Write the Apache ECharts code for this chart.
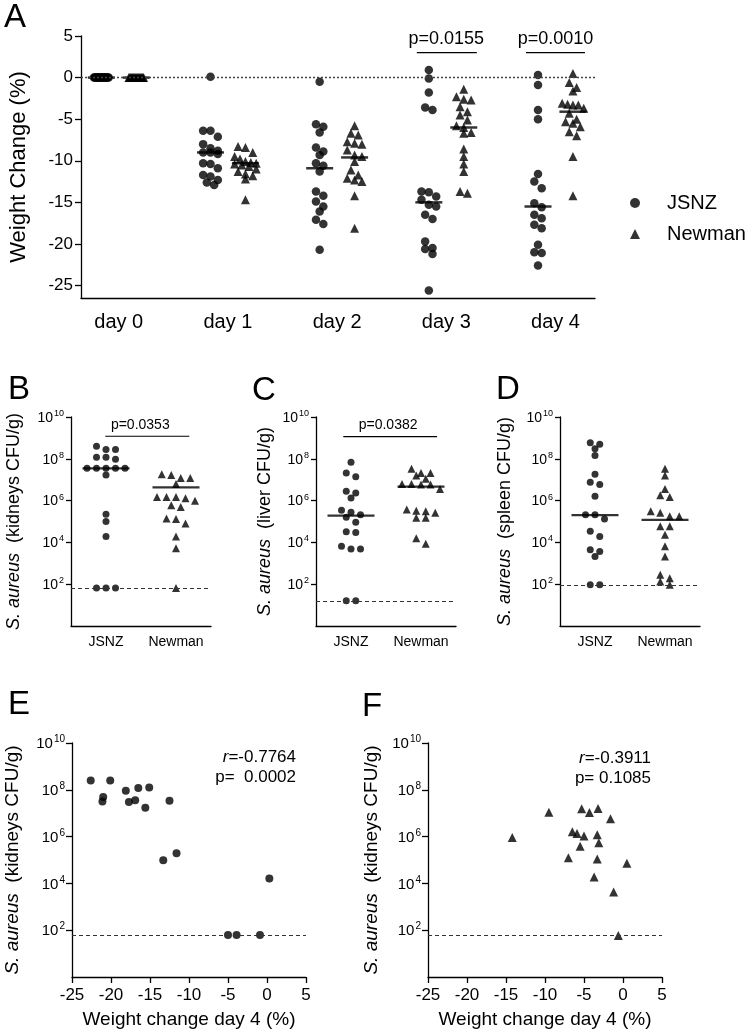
<!DOCTYPE html>
<html><head><meta charset="utf-8">
<script src="https://cdn.jsdelivr.net/npm/echarts@6/dist/echarts.min.js"></script>
<style>html,body{margin:0;padding:0;background:#fff}#c{width:751px;height:1036px}</style>
</head><body><div id="c"></div>
<script>
// ================= DATA =================
const days = ['day 0', 'day 1', 'day 2', 'day 3', 'day 4'];
const groups = ['JSNZ', 'Newman'];

// Panel A: weight change (%) per day
const weightD0_JSNZ   = [0,0,0,0,0,0,0,0,0,0,0,0,0,0,0,0,0,0];
const weightD0_Newman = [0,0,0,0,0,0,0,0,0,0,0,0,0,0,0,0,0,0];
const weightD1_JSNZ   = [0.1,-6.4,-6.4,-7.1,-8.0,-8.5,-8.8,-9.0,-9.0,-9.2,-10.3,-10.4,-10.9,-11.7,-11.9,-12.3,-12.6,-12.9];
const weightD1_Newman = [-8.3,-8.4,-9.0,-9.5,-9.8,-10.1,-10.2,-10.3,-10.4,-10.5,-10.7,-11.0,-11.3,-11.6,-11.8,-12.2,-14.7];
const weightD2_JSNZ   = [-0.5,-5.6,-5.9,-6.6,-8.4,-8.9,-9.3,-10.3,-10.6,-11.3,-13.7,-14.2,-14.9,-15.5,-16.1,-17.1,-17.6,-20.7];
const weightD2_Newman = [-5.8,-6.7,-6.9,-7.7,-7.9,-8.0,-8.7,-9.3,-9.5,-10.1,-11.1,-11.7,-12.1,-12.3,-12.5,-14.2,-18.1];
const weightD3_JSNZ   = [0.9,-0.1,-1.8,-3.6,-3.9,-13.7,-13.8,-14.3,-14.7,-15.3,-15.5,-16.5,-17.0,-19.7,-20.5,-20.6,-21.2,-25.6];
const weightD3_Newman = [-1.4,-2.3,-2.6,-2.7,-3.5,-4.1,-4.5,-5.1,-5.8,-6.0,-6.6,-6.7,-8.6,-9.5,-10.4,-11.3,-13.7,-13.9];
const weightD4_JSNZ   = [-22.6,-20.1,-21.0,-21.1,-18.1,-17.7,-16.9,-16.5,-15.6,-15.1,-12.5,-13.3,-11.6,0.3,-5.0,-3.9,-0.9];
const weightD4_Newman = [-14.2,-9.5,-7.0,-6.5,-5.9,-5.5,-5.3,-5.0,-4.3,-3.7,-3.3,-3.2,-3.3,-3.1,-1.6,-1.2,-0.6,0.5];
const medianA_JSNZ    = [0, -9.0, -10.9, -15.0, -15.5];
const medianA_Newman  = [0, -10.3, -9.6, -6.0, -4.1];
const pValuesA        = ['p=0.0155', 'p=0.0010'];   // day 3, day 4

// Panels B-D: CFU/g
const kidneyJSNZ   = [4.0e8,2.8e8,2.8e8,1.2e8,1.2e8,9.5e7,3.5e7,3.5e7,3.5e7,3.5e7,3.5e7,1.7e7,2.2e5,1.0e5,1.9e4,66,66,66];
const kidneyNewman = [1.8e7,1.2e7,6.2e6,1.2e7,1.7e7,1.5e6,9.8e5,1.5e6,1.5e6,1.3e6,5.0e5,6.0e5,1.3e5,8.1e4,1.4e5,1.9e4,5.2e3,66];
const liverJSNZ    = [6.9e7,1.4e7,2.1e7,2.3e6,2.8e6,1.35e6,2.8e5,3.5e5,2.1e5,1.6e5,9.1e4,3.0e4,3.2e4,4.8e3,4.8e3,6.5e3,16,16];
const liverNewman  = [2.1e7,1.6e7,3.3e7,2.1e7,1.1e7,6.3e6,5.9e6,3.6e6,5.9e6,6.3e6,3.1e5,3.7e5,1.5e5,1.5e5,2.6e5,3.3e5,8.7e3,1.6e4];
const spleenJSNZ   = [3.0e8,4.9e8,5.9e8,1.45e8,1.8e7,7.6e6,5.9e6,1.6e6,2.1e5,2.1e5,1.3e5,3.4e4,1.9e4,3.7e3,4.5e3,2.1e3,93,93];
const spleenNewman = [3.3e7,1.6e7,3.6e6,1.5e6,1.8e6,3.1e5,1.8e5,1.8e5,2.6e5,5.9e4,5.9e4,2.3e4,6.5e3,2.1e3,195,280,135,93];
const medianKidney = [3.5e7, 4.3e6];
const medianLiver  = [1.9e5, 4.7e6];
const medianSpleen = [2.0e5, 1.2e5];
const lodKidney = 66, lodLiver = 16, lodSpleen = 93;
const pKidney = 'p=0.0353', pLiver = 'p=0.0382';

// Panels E, F: kidney CFU vs day-4 weight change
const cfuKidneyE = [2.5e8,2.5e8,4.9e7,3.2e7,9.1e7,3.0e7,3.6e7,1.2e8,1.7e7,1.26e8,3.4e7,9.8e4,1.95e5,1.6e4,63,63,63];
const cfuKidneyF = [9.1e5,1.1e7,1.26e5,1.6e6,1.35e6,3.9e5,1.55e7,1.07e6,1.07e7,1.9e4,1.2e6,1.6e7,1.1e5,5.4e5,5.8e6,4.3e3,59,7.2e4];
const lodE = 63, lodF = 63;
const statsE = ['r', '=-0.7764', 'p=  0.0002'];
const statsF = ['r', '=-0.3911', 'p= 0.1085'];

// ================= HELPERS =================
const FONT = '"Liberation Sans", Arial, Helvetica, sans-serif';
const lg = v => Math.log10(v);

// deterministic column-scatter layout (GraphPad-like): rows of nearby values spread sideways
function swarm(vals, center, pxY, pxX, sp, maxHalf, binPx) {
  const idx = vals.map((v, i) => i).sort((a, b) => vals[b] - vals[a]);
  const out = [];
  let i = 0;
  while (i < idx.length) {
    const start = vals[idx[i]];
    let j = i;
    while (j < idx.length && (start - vals[idx[j]]) * pxY < binPx) j++;
    const k = j - i;
    const s = k > 1 ? Math.min(sp, 2 * maxHalf / (k - 1)) : 0;
    for (let m = 0; m < k; m++) out.push([center + (m - (k - 1) / 2) * s / pxX, vals[idx[i + m]]]);
    i = j;
  }
  return out;
}

const axisLine = { onZero: false, lineStyle: { color: '#000', width: 1.3 } };
const tickStyle = { lineStyle: { color: '#000', width: 1.3 } };
const supLabel = (b, s) => ({
  customValues: [2, 4, 6, 8, 10],
  formatter: v => '{b|10}{s|' + v + '}',
  margin: 7,
  rich: {
    b: { fontSize: b, fontFamily: FONT, color: '#000', verticalAlign: 'bottom', lineHeight: b + 2 },
    s: { fontSize: s, fontFamily: FONT, color: '#000', verticalAlign: 'top', lineHeight: s, padding: [0, 0, 0, 1] }
  }
});

const grids = [
  { left: 71, top: 36, width: 524, height: 262 },   // A
  { left: 71, top: 417, width: 140, height: 209 },  // B
  { left: 316, top: 417, width: 140, height: 209 }, // C
  { left: 560, top: 417, width: 140, height: 209 }, // D
  { left: 72, top: 743, width: 234, height: 234 },  // E
  { left: 428, top: 743, width: 234, height: 234 }  // F
];

const xAxes = [], yAxes = [], series = [];

// ---------- Panel A ----------
xAxes.push({ gridIndex: 0, type: 'value', min: -0.346, max: 4.362, splitLine: { show: false },
  axisLine, axisTick: { show: false },
  axisLabel: { customValues: [0, 1, 2, 3, 4], formatter: v => days[Math.round(v)], fontSize: 20, fontFamily: FONT, color: '#000', margin: 14 } });
yAxes.push({ gridIndex: 0, type: 'value', min: -26.5, max: 5, splitLine: { show: false },
  axisLine, axisTick: { customValues: [-25, -20, -15, -10, -5, 0, 5], length: 6, ...tickStyle },
  axisLabel: { customValues: [-25, -20, -15, -10, -5, 0, 5], fontSize: 17, fontFamily: FONT, color: '#000', margin: 8 },
  name: 'Weight Change (%)', nameLocation: 'middle', nameGap: 51,
  nameTextStyle: { fontSize: 22, fontFamily: FONT, color: '#000' } });

const wJ = [weightD0_JSNZ, weightD1_JSNZ, weightD2_JSNZ, weightD3_JSNZ, weightD4_JSNZ];
const wN = [weightD0_Newman, weightD1_Newman, weightD2_Newman, weightD3_Newman, weightD4_Newman];
const pxYA = 262 / 31.5, pxXA = 524 / 4.708;
let dJ = [], dN = [];
for (let d = 0; d < 5; d++) {
  const mh = d === 0 ? 7.5 : 11;
  dJ = dJ.concat(swarm(wJ[d], d - 0.16, pxYA, pxXA, 7.5, mh, 7));
  dN = dN.concat(swarm(wN[d], d + 0.16, pxYA, pxXA, 7.5, mh, 7));
}
series.push({ name: 'JSNZ', type: 'scatter', xAxisIndex: 0, yAxisIndex: 0, symbol: 'circle', symbolSize: 8.5,
  itemStyle: { color: '#000' }, data: dJ, z: 3,
  markLine: { silent: true, symbol: 'none', label: { show: false },
    lineStyle: { color: '#444', width: 1.3, type: [2, 2] }, data: [{ yAxis: 0 }] } });
series.push({ name: 'Newman', type: 'scatter', xAxisIndex: 0, yAxisIndex: 0, symbol: 'triangle', symbolSize: 9,
  itemStyle: { color: '#000' }, data: dN, z: 3 });
series.push({ type: 'scatter', xAxisIndex: 0, yAxisIndex: 0, symbol: 'rect', symbolSize: [27, 2.5],
  itemStyle: { color: '#000' }, z: 4,
  data: medianA_JSNZ.map((m, d) => [d - 0.16, m]).concat(medianA_Newman.map((m, d) => [d + 0.16, m])) });

function bracketSeries(xi, yi, items, texts, fontSize) {
  return { type: 'custom', xAxisIndex: xi, yAxisIndex: yi, z: 5, silent: true,
    renderItem: (params, api) => {
      const p1 = api.coord([api.value(0), api.value(2)]);
      const p2 = api.coord([api.value(1), api.value(2)]);
      return { type: 'group', children: [
        { type: 'line', shape: { x1: p1[0], y1: p1[1], x2: p2[0], y2: p2[1] }, style: { stroke: '#000', lineWidth: 1.2 } },
        { type: 'text', x: api.coord([api.value(3), 0])[0], y: p1[1] - 4.5,
          style: { text: texts[params.dataIndex], fontSize, fontFamily: FONT, fill: '#000', align: 'center', verticalAlign: 'bottom' } }
      ] };
    },
    data: items };
}
series.push(bracketSeries(0, 0, [[3 - 0.27, 3 + 0.28, 3, 3], [4 - 0.27, 4 + 0.27, 3, 4]], pValuesA, 18));

// ---------- Panels B-D ----------
const panelsBD = [
  { g: 1, j: kidneyJSNZ, n: kidneyNewman, med: medianKidney, lod: lodKidney, organ: 'kidneys', gap: 48,
    br: [0.49, 1.69, 9.08, 0.99], p: pKidney },
  { g: 2, j: liverJSNZ, n: liverNewman, med: medianLiver, lod: lodLiver, organ: 'liver', gap: 42,
    br: [0.39, 1.73, 9.06, 1.03], p: pLiver },
  { g: 3, j: spleenJSNZ, n: spleenNewman, med: medianSpleen, lod: lodSpleen, organ: 'spleen', gap: 46 }
];
const pxYB = 209 / 10, pxXB = 70;
panelsBD.forEach(P => {
  xAxes.push({ gridIndex: P.g, type: 'value', min: 0, max: 2, splitLine: { show: false }, axisLine, axisTick: { show: false },
    axisLabel: { customValues: [0.5, 1.5], formatter: v => groups[Math.floor(v)], fontSize: 14, fontFamily: FONT, color: '#000', margin: 9 } });
  yAxes.push({ gridIndex: P.g, type: 'value', min: 0, max: 10, splitLine: { show: false }, axisLine,
    axisTick: { customValues: [2, 4, 6, 8, 10], length: 5, ...tickStyle },
    axisLabel: supLabel(14, 9),
    name: '{i|S. aureus}  (' + P.organ + ' CFU/g)', nameLocation: 'middle', nameGap: P.gap,
    nameTextStyle: { fontSize: 18, fontFamily: FONT, color: '#000', rich: { i: { fontSize: 18, fontFamily: FONT, fontStyle: 'italic', color: '#000' } } } });
  series.push({ type: 'scatter', xAxisIndex: P.g, yAxisIndex: P.g, symbol: 'circle', symbolSize: 7, itemStyle: { color: '#000' }, z: 3,
    data: swarm(P.j.map(lg), 0.5, pxYB, pxXB, 9.5, 19, 6),
    markLine: { silent: true, symbol: 'none', label: { show: false },
      lineStyle: { color: '#333', width: 1.2, type: [4, 3] }, data: [{ yAxis: lg(P.lod) }] } });
  series.push({ type: 'scatter', xAxisIndex: P.g, yAxisIndex: P.g, symbol: 'triangle', symbolSize: 8, itemStyle: { color: '#000' }, z: 3,
    data: swarm(P.n.map(lg), 1.5, pxYB, pxXB, 9.5, 19, 6) });
  series.push({ type: 'scatter', xAxisIndex: P.g, yAxisIndex: P.g, symbol: 'rect', symbolSize: [47, 2.2], itemStyle: { color: '#000' }, z: 4,
    data: [[0.5, lg(P.med[0])], [1.5, lg(P.med[1])]] });
  if (P.p) series.push(bracketSeries(P.g, P.g, [P.br], [P.p], 14));
});

// ---------- Panels E, F ----------
const panelsEF = [
  { g: 4, w: weightD4_JSNZ, c: cfuKidneyE, lod: lodE, sym: 'circle', size: 8, gap: 50 },
  { g: 5, w: weightD4_Newman, c: cfuKidneyF, lod: lodF, sym: 'triangle', size: 9, gap: 47 }
];
panelsEF.forEach(P => {
  xAxes.push({ gridIndex: P.g, type: 'value', min: -25, max: 5, interval: 5, splitLine: { show: false }, axisLine,
    axisTick: { length: 6, ...tickStyle },
    axisLabel: { fontSize: 17, fontFamily: FONT, color: '#000', margin: 10 },
    name: 'Weight change day 4 (%)', nameLocation: 'middle', nameGap: 33,
    nameTextStyle: { fontSize: 19, fontFamily: FONT, color: '#000' } });
  yAxes.push({ gridIndex: P.g, type: 'value', min: 0, max: 10, splitLine: { show: false }, axisLine,
    axisTick: { customValues: [2, 4, 6, 8, 10], length: 6, ...tickStyle },
    axisLabel: supLabel(15, 10),
    name: '{i|S. aureus}  (kidneys CFU/g)', nameLocation: 'middle', nameGap: P.gap,
    nameTextStyle: { fontSize: 19, fontFamily: FONT, color: '#000', rich: { i: { fontSize: 19, fontFamily: FONT, fontStyle: 'italic', color: '#000' } } } });
  series.push({ type: 'scatter', xAxisIndex: P.g, yAxisIndex: P.g, symbol: P.sym, symbolSize: P.size, itemStyle: { color: '#000' }, z: 3,
    data: P.w.map((w, i) => [w, lg(P.c[i])]),
    markLine: { silent: true, symbol: 'none', label: { show: false },
      lineStyle: { color: '#333', width: 1.2, type: [4, 3] }, data: [{ yAxis: lg(P.lod) }] } });
});

// ---------- graphics: panel letters & stats ----------
const letter = (t, x, y) => ({ type: 'text', x, y, style: { text: t, fontSize: 33, fontFamily: FONT, fill: '#000', verticalAlign: 'middle' } });
const stat = (S, right, y) => ([
  { type: 'text', x: right, y, style: { text: '{i|' + S[0] + '}' + S[1], align: 'right', verticalAlign: 'middle', fontSize: 17, fontFamily: FONT, fill: '#000',
      rich: { i: { fontStyle: 'italic', fontSize: 17, fontFamily: FONT, fill: '#000' } } } },
  { type: 'text', x: right, y: y + 20, style: { text: S[2], align: 'right', verticalAlign: 'middle', fontSize: 17, fontFamily: FONT, fill: '#000' } }
]);

const chart = echarts.init(document.getElementById('c'), null, { renderer: 'canvas' });
chart.setOption({
  animation: false,
  backgroundColor: '#fff',
  grid: grids,
  xAxis: xAxes,
  yAxis: yAxes,
  legend: { data: [{ name: 'JSNZ', icon: 'circle' }, { name: 'Newman', icon: 'triangle' }],
    orient: 'vertical', left: 630, top: 193, padding: 0, itemWidth: 10, itemHeight: 10, itemGap: 11, selectedMode: false,
    textStyle: { fontSize: 20, fontFamily: FONT, color: '#000', padding: [0, 0, 0, 22] } },
  series,
  graphic: [
    letter('A', 4, 18), letter('B', 8, 390), letter('C', 252, 391), letter('D', 496, 390),
    letter('E', 8, 705), letter('F', 362, 707),
    ...stat(statsE, 296, 757), ...stat(statsF, 651, 758)
  ]
});
</script></body></html>
